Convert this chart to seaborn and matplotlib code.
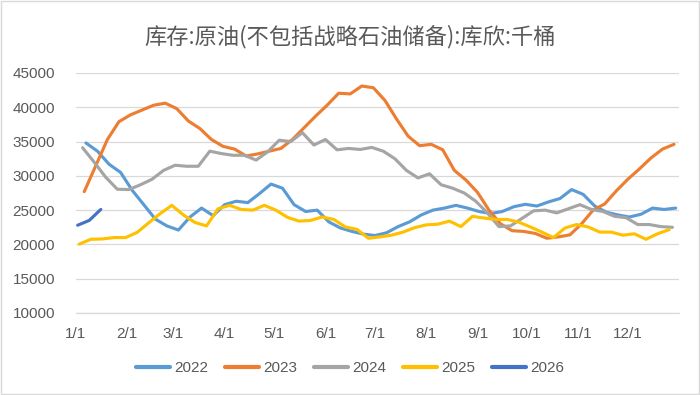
import numpy as np
import pandas as pd
import seaborn as sns
import matplotlib.pyplot as plt
from matplotlib.patches import Rectangle

# Weekly crude stocks at Cushing (thousand barrels), one list per year
years = ['2022', '2023', '2024', '2025', '2026']
first_week = ['2022-01-07', '2023-01-06', '2024-01-05', '2025-01-03', '2026-01-02']
colors = ['#5B9BD5', '#ED7D31', '#A5A5A5', '#FFC000', '#4472C4']
month_labels = ['1/1', '2/1', '3/1', '4/1', '5/1', '6/1', '7/1', '8/1', '9/1', '10/1', '11/1', '12/1']
title = '库存:原油(不包括战略石油储备):库欣:千桶'

v2022 = [34800, 33600, 31700, 30500, 27900, 25800, 23700, 22700, 22100, 24000,
         25300, 24200, 25800, 26300, 26100, 27400, 28800, 28200, 25800, 24800,
         25000, 23300, 22400, 21900, 21500, 21300, 21700, 22600, 23300, 24300,
         25000, 25300, 25700, 25300, 24800, 24500, 24800, 25500, 25850, 25600,
         26200, 26700, 28000, 27300, 25600, 24700, 24300, 24000, 24400, 25300,
         25100, 25300]
v2023 = [27700, 31500, 35300, 37900, 38900, 39600, 40300, 40600, 39800, 38000,
         36900, 35300, 34300, 33900, 32900, 33200, 33600, 34000, 35300, 37000,
         38700, 40300, 42050, 41950, 43100, 42850, 41000, 38300, 35800, 34400,
         34600, 33800, 30800, 29400, 27600, 25000, 23000, 22000, 21900, 21600,
         20900, 21100, 21400, 23000, 25000, 25900, 27800, 29500, 31000, 32600,
         33900, 34600]
v2024 = [34100, 32000, 29800, 28050, 28000, 28700, 29500, 30800, 31550, 31400,
         31400, 33600, 33250, 33000, 33000, 32300, 33500, 35200, 35000, 36300,
         34500, 35300, 33800, 34000, 33850, 34150, 33600, 32500, 30800, 29700,
         30300, 28700, 28200, 27500, 26300, 24600, 22600, 22700, 23800, 24900,
         25000, 24600, 25200, 25800, 25100, 24800, 24100, 23900, 22900, 22900,
         22600, 22500]
v2025 = [20050, 20750, 20800, 21000, 21000, 21750, 23150, 24500, 25700, 24300,
         23200, 22700, 25200, 25700, 25100, 25000, 25700, 25000, 23950, 23400,
         23500, 24000, 23650, 22550, 22200, 20900, 21100, 21350, 21800, 22450,
         22850, 22950, 23400, 22600, 24100, 23850, 23650, 23650, 23250, 22550,
         21800, 21000, 22400, 22900, 22550, 21800, 21800, 21350, 21550, 20750,
         21550, 22150]
v2026 = [22800, 23500, 25100]

# put every year on one shared Jan-Dec axis
frames = []
for yr, start, vals in zip(years, first_week, [v2022, v2023, v2024, v2025, v2026]):
    d = pd.date_range(start, periods=len(vals), freq='7D')
    day = (d - pd.Timestamp(yr + '-01-01')).days
    frames.append(pd.DataFrame({'date': pd.Timestamp('2023-01-01') + pd.to_timedelta(day, unit='D'),
                                'stock': vals, 'year': yr}))
df = pd.concat(frames, ignore_index=True)

sns.set_style('white')
plt.rcParams['font.family'] = ['Liberation Sans', 'Noto Sans CJK SC', 'DejaVu Sans']

fig = plt.figure(figsize=(7, 3.95), dpi=100)
ax = fig.add_axes([76 / 700, 1 - 313 / 395, (679 - 76) / 700, (313 - 73) / 395])

sns.lineplot(data=df, x='date', y='stock', hue='year', palette=dict(zip(years, colors)),
             linewidth=2.25, ax=ax)
for line in ax.lines:
    line.set_solid_joinstyle('round')
    line.set_solid_capstyle('round')

ax.set_ylim(10000, 45000)
ax.set_yticks(range(10000, 45001, 5000))
ticks = pd.date_range('2023-01-01', '2024-01-01', freq='MS')
ax.set_xlim(ticks[0], ticks[-1])
ax.set_xticks(ticks)
ax.set_xticklabels(month_labels + [''])
ax.set_xlabel('')
ax.set_ylabel('')

for s in ['top', 'right', 'left']:
    ax.spines[s].set_visible(False)
ax.spines['bottom'].set_color('#d9d9d9')
ax.spines['bottom'].set_linewidth(0.9)
ax.tick_params(axis='x', length=5, width=0.9, color='#d9d9d9', pad=5, labelsize=11, labelcolor='#595959')
ax.tick_params(axis='y', length=0, pad=15, labelsize=11, labelcolor='#595959')
ax.yaxis.grid(True, color='#d9d9d9', linewidth=0.9)
ax.set_axisbelow(True)

handles, labels = ax.get_legend_handles_labels()
ax.get_legend().remove()
leg = fig.legend(handles, labels, loc='center', bbox_to_anchor=(0.5, 1 - 368 / 395), ncol=5,
                 frameon=False, fontsize=11, handlelength=2.2, handletextpad=0.3,
                 columnspacing=1.1, labelcolor='#595959')
for h in leg.legend_handles:
    h.set_linewidth(3)
    h.set_solid_capstyle('round')

fig.text(0.5, 1 - 37 / 395, title, ha='center', va='center', fontsize=16, color='#595959',
         family=['Noto Sans CJK SC', 'DejaVu Sans'])

fig.add_artist(Rectangle((0.001, 0.002), 0.998, 0.996, transform=fig.transFigure,
                         fill=False, edgecolor='#d9d9d9', linewidth=1))

fig.savefig('out.png', dpi=100)
